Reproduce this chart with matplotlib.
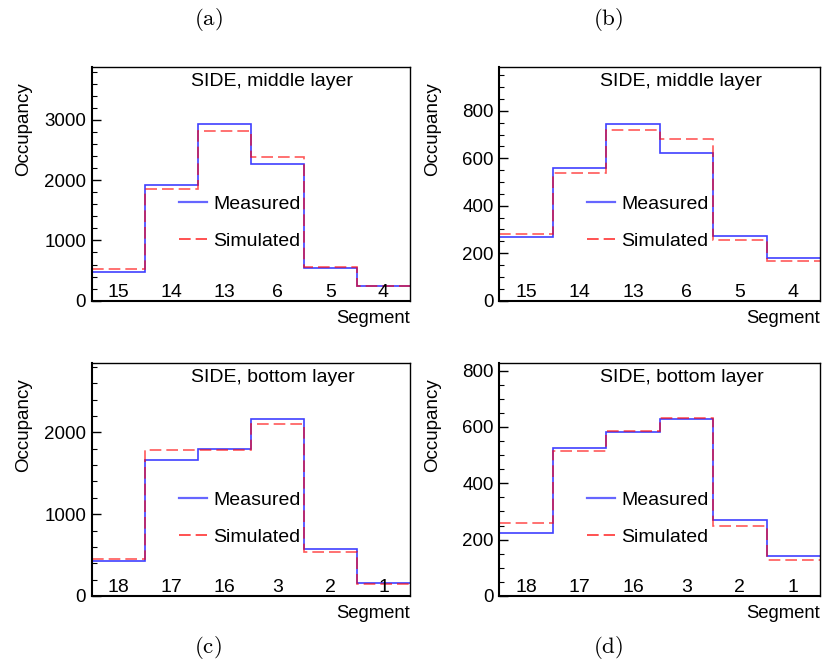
import matplotlib.pyplot as plt
import numpy as np
from matplotlib.ticker import MultipleLocator
from matplotlib.lines import Line2D

plt.rcParams['font.family'] = ['Liberation Sans', 'DejaVu Sans']
plt.rcParams['mathtext.fontset'] = 'cm'

# segment numbers along x, per layer
seg_middle = ['15', '14', '13', '6', '5', '4']
seg_bottom = ['18', '17', '16', '3', '2', '1']

# occupancy per segment
meas_a = [480, 1915, 2930, 2270, 545, 248]
sim_a = [530, 1850, 2815, 2380, 555, 250]
meas_b = [270, 558, 744, 623, 273, 180]
sim_b = [283, 536, 721, 682, 257, 166]
meas_c = [432, 1663, 1800, 2162, 573, 155]
sim_c = [447, 1780, 1780, 2105, 534, 143]
meas_d = [225, 524, 582, 628, 268, 143]
sim_d = [260, 516, 586, 632, 250, 129]

panels = [
    # (rect, measured, simulated, segments, title, ymax, major, minor, letter, letter xy)
    ([0.1102, 0.5465, 0.3826, 0.3525], meas_a, sim_a, seg_middle,
     'SIDE, middle layer', 3880, 1000, 200, '(a)', (0.250, 0.970)),
    ([0.6001, 0.5465, 0.3855, 0.3525], meas_b, sim_b, seg_middle,
     'SIDE, middle layer', 985, 200, 50, '(b)', (0.731, 0.970)),
    ([0.1102, 0.1011, 0.3826, 0.3519], meas_c, sim_c, seg_bottom,
     'SIDE, bottom layer', 2852, 1000, 200, '(c)', (0.250, 0.023)),
    ([0.6001, 0.1011, 0.3855, 0.3519], meas_d, sim_d, seg_bottom,
     'SIDE, bottom layer', 828, 200, 50, '(d)', (0.731, 0.023)),
]

fs = 14
dash = (0, (7, 3))

fig = plt.figure(figsize=(8.32, 6.63), dpi=100)

for rect, meas, sim, segs, title, ymax, major, minor, letter, lxy in panels:
    ax = fig.add_axes(rect)
    edges = np.arange(len(segs) + 1)
    ax.stairs(meas, edges, baseline=None, color='#0000ff', lw=1.2, alpha=0.75)
    ax.stairs(sim, edges, baseline=None, color='#ff0000', lw=1.2, alpha=0.65,
              linestyle=dash)
    ax.set_xlim(0, len(segs))
    ax.set_ylim(0, ymax)

    ax.yaxis.set_major_locator(MultipleLocator(major))
    ax.yaxis.set_minor_locator(MultipleLocator(minor))
    ax.tick_params(axis='y', which='major', direction='in', length=6.5,
                   width=1.0, labelsize=13.5, pad=4)
    ax.tick_params(axis='y', which='minor', direction='in', length=3.3, width=0.8)
    ax.tick_params(axis='x', which='both', bottom=False, labelbottom=False)
    for side in ax.spines.values():
        side.set_linewidth(1.0)
    ax.spines['left'].set_linewidth(1.5)
    ax.spines['bottom'].set_linewidth(1.5)

    trans = ax.get_xaxis_transform()
    for i, s in enumerate(segs):
        ax.text(i + 0.5, 0.036, s, transform=trans, ha='center', va='center',
                fontsize=fs)

    ax.text(0.568, 0.938, title, transform=ax.transAxes, ha='center',
            va='center', fontsize=fs)

    ax.set_xlabel('Segment', loc='right', fontsize=13.3, labelpad=6.5)
    ax.set_ylabel('Occupancy', fontsize=13.5)
    ax.yaxis.set_label_coords(-0.18 if rect[0] > 0.5 else -0.1885, 0.933)
    ax.yaxis.label.set_horizontalalignment('right')

    handles = [Line2D([], [], color='#0000ff', lw=1.6, alpha=0.6),
               Line2D([], [], color='#ff0000', lw=1.2, alpha=0.8,
                      linestyle=dash)]
    ax.legend(handles, ['Measured', 'Simulated'], loc='center left',
              bbox_to_anchor=(0.274, 0.333), frameon=False, fontsize=fs,
              handlelength=1.44, handletextpad=0.31, labelspacing=1.0,
              borderpad=0, borderaxespad=0)

    fig.text(lxy[0], lxy[1], r'$\mathrm{' + letter + '}$', ha='center',
             va='center', fontsize=16.5)

fig.savefig('out.png', dpi=100)
